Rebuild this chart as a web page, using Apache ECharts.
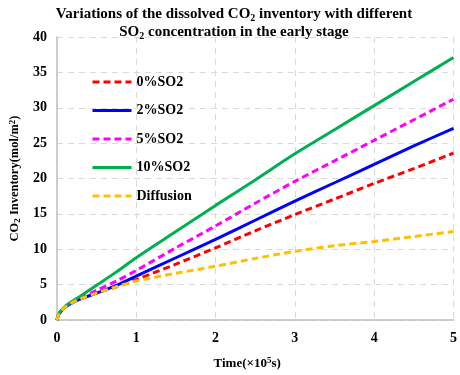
<!DOCTYPE html>
<html>
<head>
<meta charset="utf-8">
<script src="https://cdn.jsdelivr.net/npm/echarts@6/dist/echarts.min.js"></script>
<style>
  html, body { margin: 0; padding: 0; background: #fff; }
  #chart { width: 460px; height: 375px; }
</style>
</head>
<body>
<div id="chart"></div>
<script>
// time in units of 1e5 s
const time = [0, 0.02, 0.05, 0.1, 0.2, 0.3, 0.5, 0.75, 1, 1.5, 2, 2.5, 3, 3.5, 4, 4.5, 5];
const so2_0 = [0, 0.7, 1.2, 1.8, 2.5, 3.0, 3.8, 4.7, 5.7, 7.9, 10.2, 12.6, 14.9, 17.1, 19.3, 21.4, 23.6];
const so2_2 = [0, 0.7, 1.2, 1.8, 2.5, 3.0, 3.8, 4.9, 6.2, 8.8, 11.4, 14.1, 16.8, 19.4, 22.0, 24.6, 27.1];
const so2_5 = [0, 0.7, 1.2, 1.8, 2.5, 3.1, 4.2, 5.5, 7.0, 10.2, 13.3, 16.5, 19.6, 22.5, 25.4, 28.3, 31.2];
const so2_10 = [0, 0.8, 1.3, 1.9, 2.7, 3.4, 4.9, 6.8, 8.8, 12.5, 16.2, 19.8, 23.5, 26.9, 30.3, 33.7, 37.1];
const diffusion = [0, 0.7, 1.2, 1.8, 2.5, 3.0, 3.8, 4.7, 5.5, 6.6, 7.6, 8.7, 9.7, 10.5, 11.1, 11.8, 12.5];

const serif = '"Liberation Serif", "Times New Roman", serif';
const pairs = ys => time.map((t, i) => [t, ys[i]]);

const mk = (name, ys, color, dashed) => ({
  name,
  type: 'line',
  data: pairs(ys),
  smooth: 0.3,
  showSymbol: false,
  symbol: 'none',
  lineStyle: { color, width: 3, type: dashed ? [7, 4] : 'solid' },
  itemStyle: { color }
});

const chart = echarts.init(document.getElementById('chart'));
chart.setOption({
  animation: false,
  title: {
    text: 'Variations of the dissolved CO{sub|2} inventory with different\nSO{sub|2} concentration in the early stage',
    left: 229,
    textAlign: 'center',
    top: 0,
    textStyle: {
      fontFamily: serif, fontWeight: 'bold', fontSize: 15, color: '#000', lineHeight: 18,
      rich: {
        sub: { fontFamily: serif, fontWeight: 'bold', fontSize: 10, verticalAlign: 'bottom', padding: [6, 0, 0, 0], color: '#000' }
      }
    }
  },
  grid: { left: 52, right: 4, top: 37, bottom: 54, containLabel: false },
  legend: {
    orient: 'vertical',
    left: 86,
    top: 70,
    itemWidth: 39,
    itemHeight: 14,
    itemGap: 14.5,
    itemStyle: { opacity: 0 },
    lineStyle: { width: 3 },
    textStyle: { fontFamily: serif, fontWeight: 'bold', fontSize: 14, color: '#000' },
    data: ['0%SO2', '2%SO2', '5%SO2', '10%SO2', 'Diffusion']
  },
  xAxis: {
    type: 'value', min: 0, max: 5, interval: 1,
    name: 'Time(×10{sup|5}s)',
    nameLocation: 'middle',
    nameGap: 36,
    nameTextStyle: {
      fontFamily: serif, fontWeight: 'bold', fontSize: 13, color: '#000', padding: [0, 16, 0, 0],
      rich: { sup: { fontFamily: serif, fontWeight: 'bold', fontSize: 9, verticalAlign: 'top', padding: [0, 0, 6, 0], color: '#000' } }
    },
    axisLine: { lineStyle: { color: '#bfbfbf', width: 1.5 } },
    axisTick: { show: false },
    axisLabel: { fontFamily: serif, fontWeight: 'bold', fontSize: 14, color: '#000', margin: 11 },
    splitLine: { lineStyle: { color: '#d9d9d9', type: [6, 5] } }
  },
  yAxis: {
    type: 'value', min: 0, max: 40, interval: 5,
    name: 'CO{sub|2} Inventory(mol/m{sup|2})',
    nameLocation: 'middle',
    nameGap: 25,
    nameTextStyle: {
      fontFamily: serif, fontWeight: 'bold', fontSize: 12.5, color: '#000',
      rich: {
        sub: { fontFamily: serif, fontWeight: 'bold', fontSize: 9, verticalAlign: 'bottom', padding: [5, 0, 0, 0], color: '#000' },
        sup: { fontFamily: serif, fontWeight: 'bold', fontSize: 9, verticalAlign: 'top', padding: [0, 0, 5, 0], color: '#000' }
      }
    },
    axisLine: { show: true, lineStyle: { color: '#bfbfbf', width: 1.5 } },
    axisTick: { show: false },
    axisLabel: { fontFamily: serif, fontWeight: 'bold', fontSize: 14, color: '#000', margin: 10 },
    splitLine: { lineStyle: { color: '#d9d9d9', type: [6, 5] } }
  },
  series: [
    mk('0%SO2', so2_0, '#ff0000', true),
    mk('2%SO2', so2_2, '#0000ff', false),
    mk('5%SO2', so2_5, '#ff00ff', true),
    mk('10%SO2', so2_10, '#00b050', false),
    mk('Diffusion', diffusion, '#ffc000', true)
  ]
});
</script>
</body>
</html>
